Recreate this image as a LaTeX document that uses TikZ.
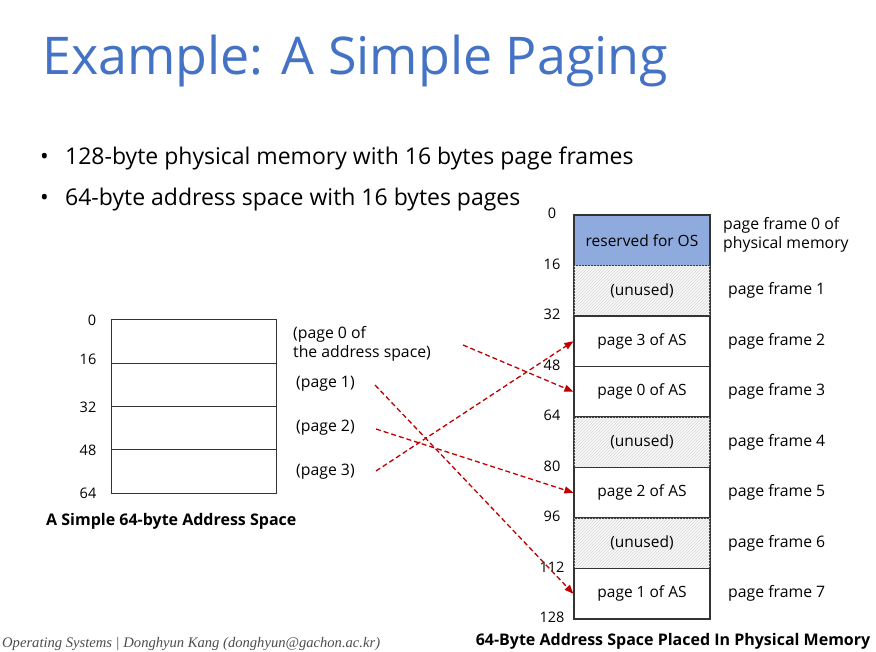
\documentclass[tikz,border=0pt]{standalone}
\usepackage{fontspec}
\setmainfont{Open Sans}
\newfontfamily\footfont{Liberation Serif}
\usetikzlibrary{positioning, arrows.meta, patterns}
\definecolor{titleblue}{HTML}{4472C4}
\definecolor{osblue}{HTML}{8FAADC}
\definecolor{mapred}{HTML}{C00000}

\begin{document}
\begin{tikzpicture}[
  x=1pt, y=-1pt,
  frame/.style={draw=black!80, line width=1.2pt, minimum width=136pt,
                minimum height=50.5pt, inner sep=0pt,
                font=\fontsize{15.5}{18}\selectfont},
  unused/.style={frame, fill=gray!5,
                 postaction={pattern=north east lines, pattern color=gray!30}},
  page/.style={draw=black!80, line width=1pt, minimum width=165pt,
               minimum height=43.3pt, inner sep=0pt},
  offs/.style={font=\fontsize{14.5}{16}\selectfont},
  lbl/.style={font=\fontsize{15.8}{18.5}\selectfont, anchor=west, align=left,
              inner sep=0pt},
  captext/.style={font=\fontsize{16}{18}\selectfont\bfseries, inner sep=0pt},
  map/.style={draw=mapred, line width=1.3pt, dash pattern=on 5pt off 3pt,
              -{Triangle[length=9pt, width=7pt]}},
]
  \useasboundingbox (0,0) rectangle (876,652);

  % Title and bullets
  \node[anchor=base west, inner sep=0pt, text=titleblue,
        font=\fontsize{52}{58}\selectfont] (title) at (42, 75)
    {Example: A Simple Paging};
  \node[anchor=base west, inner sep=0pt, font=\fontsize{23}{26}\selectfont]
    (b1) at (40, 165)
    {\makebox[25pt][l]{•}128-byte physical memory with 16 bytes page frames};
  \node[anchor=base west, inner sep=0pt, font=\fontsize{23}{26}\selectfont]
    (b2) at (40, 206)
    {\makebox[25pt][l]{•}64-byte address space with 16 bytes pages};

  % Physical memory frames
  \node[frame, fill=osblue] (f0) at (642, 240.25) {reserved for OS};
  \node[unused]             (f1) at (642, 290.75) {(unused)};
  \node[frame, fill=white]  (f2) at (642, 341.25) {page 3 of AS};
  \node[frame, fill=white]  (f3) at (642, 391.75) {page 0 of AS};
  \node[unused]             (f4) at (642, 442.25) {(unused)};
  \node[frame, fill=white]  (f5) at (642, 492.75) {page 2 of AS};
  \node[unused]             (f6) at (642, 543.25) {(unused)};
  \node[frame, fill=white]  (f7) at (642, 593.75) {page 1 of AS};

  % Physical offsets
  \foreach \v [count=\i from 0] in {0,16,32,48,64,80,96,112,128}
    \node[offs] (po\i) at (552, 213.5+\i*50.5) {\v};

  % Frame labels
  \node[lbl] (r0) at (723, 235) {page frame 0 of\\physical memory};
  \foreach \i in {1,...,7}
    \node[lbl] (r\i) at (728, 240.25+\i*50.5) {page frame \i};

  % Address space pages
  \foreach \i in {0,...,3}
    \node[page] (p\i) at (193.5, 341.65+\i*43.3) {};

  % Virtual offsets
  \node[offs] (vo0) at (92, 320) {0};
  \node[offs] (vo1) at (88, 359) {16};
  \node[offs] (vo2) at (88, 407) {32};
  \node[offs] (vo3) at (88, 450) {48};
  \node[offs] (vo4) at (88, 493) {64};

  % Page labels
  \node[lbl] (l0) at (293, 344) {(page 0 of\\the address space)};
  \node[lbl] (l1) at (296, 384) {(page 1)};
  \node[lbl] (l2) at (296, 428) {(page 2)};
  \node[lbl] (l3) at (296, 472) {(page 3)};

  % Mapping arrows
  \coordinate (s0) at (463, 345);
  \coordinate (s1) at (375, 385);
  \coordinate (s2) at (376, 429);
  \coordinate (s3) at (376, 471);
  \draw[map] (s0) -- (f3.west);
  \draw[map] (s1) -- (f7.west);
  \draw[map] (s2) -- (f5.west);
  \draw[map] (s3) -- (f2.west);

  % Captions
  \node[captext, anchor=west] (c1) at (46, 521) {A Simple 64-byte Address Space};
  \node[captext] (c2) at (673, 641)
    {64-Byte Address Space Placed In Physical Memory};
  \node[anchor=base west, inner sep=0pt, text=gray!60!black,
        font=\footfont\itshape\fontsize{14.6}{16}\selectfont] (foot)
    at (2, 647) {Operating Systems | Donghyun Kang (donghyun@gachon.ac.kr)};
\end{tikzpicture}
\end{document}
